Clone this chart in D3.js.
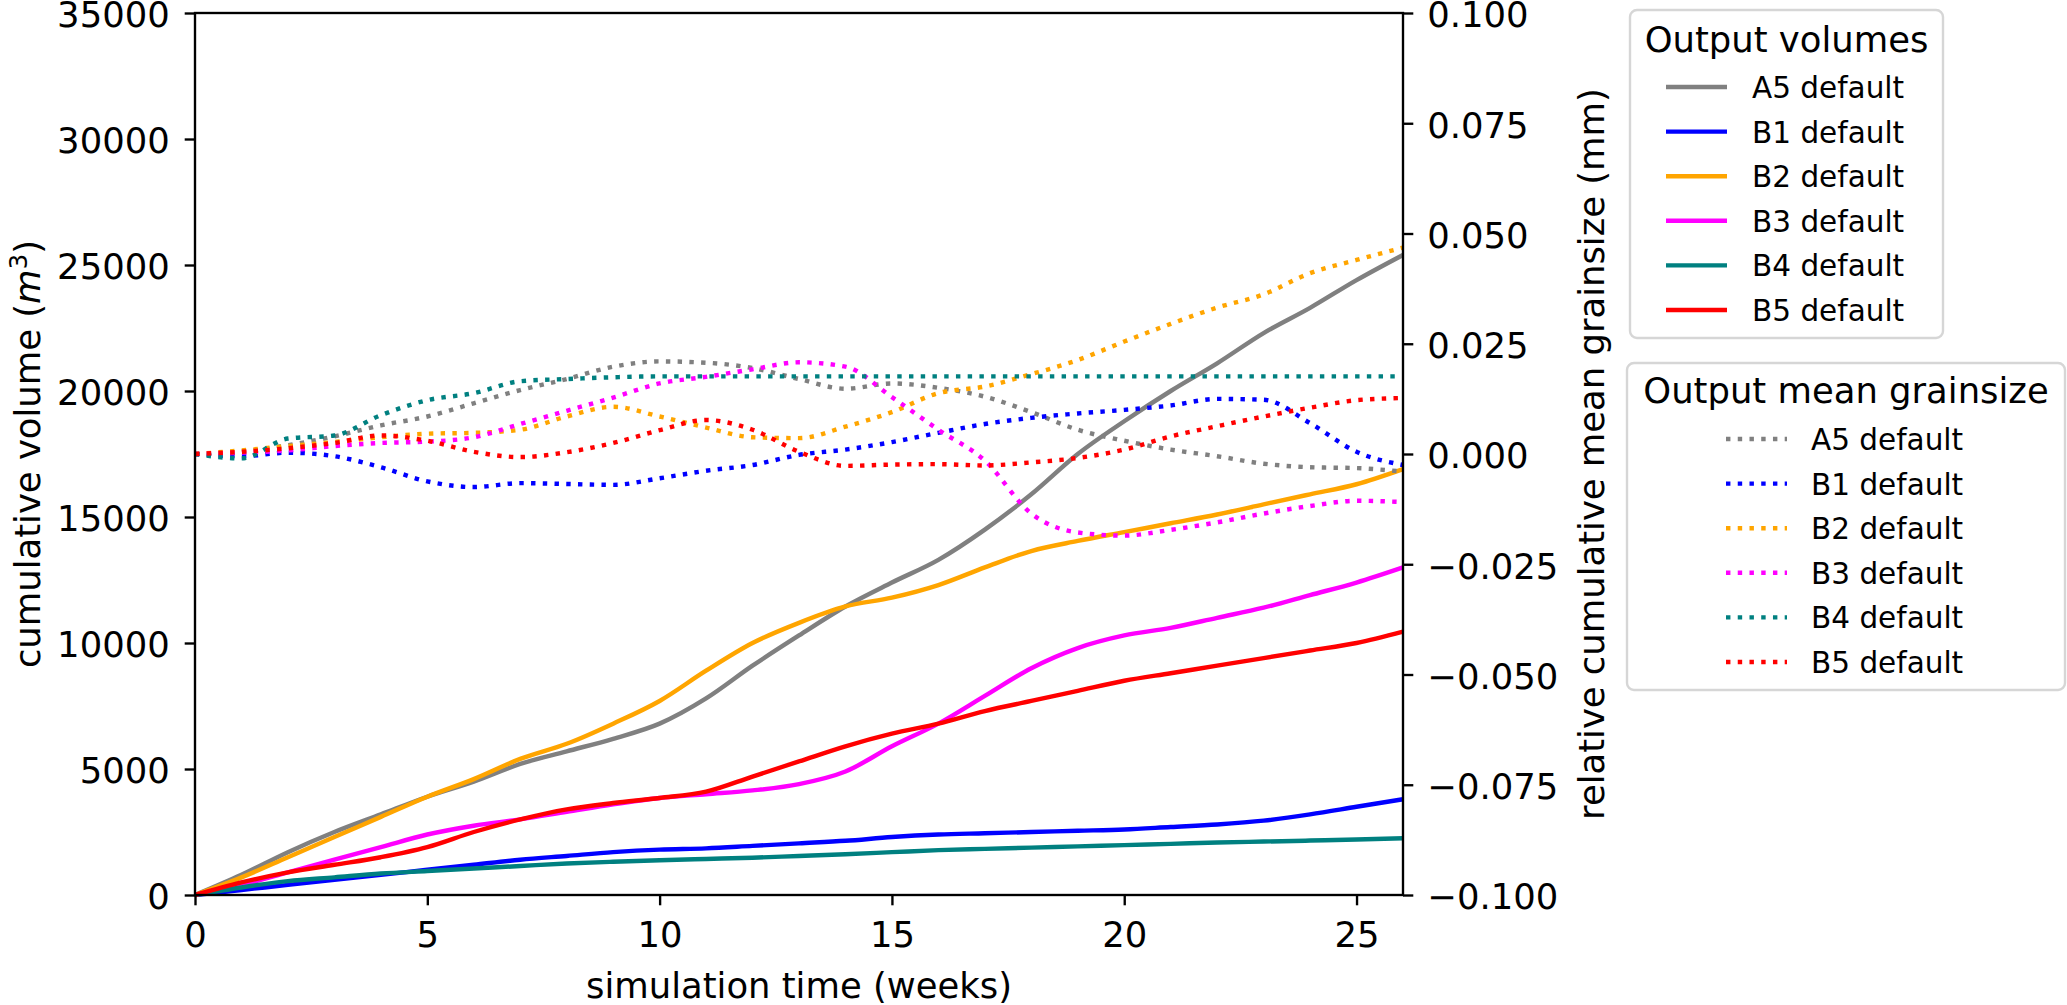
<!DOCTYPE html>
<html>
<head>
<meta charset="utf-8">
<script src="https://cdn.jsdelivr.net/npm/d3@7"></script>
<style>
body { margin: 0; background: #fff; }
text { font-family: "DejaVu Sans", sans-serif; fill: #000; }
</style>
</head>
<body>
<div id="chart"></div>
<script>
// simulation time (weeks)
var weeks = [0,1,2,3,4,5,6,7,8,9,10,11,12,13,14,15,16,17,18,19,20,21,22,23,24,25,26];

var seriesNames = ["A5 default", "B1 default", "B2 default", "B3 default", "B4 default", "B5 default"];
var seriesColors = ["#808080", "#0000ff", "#ffa500", "#ff00ff", "#008080", "#ff0000"];

// cumulative output volume (m3)
var volA5 = [0,800,1700,2500,3200,3900,4500,5200,5700,6200,6800,7800,9100,10300,11450,12400,13300,14500,15900,17500,18800,20000,21100,22300,23300,24400,25400];
var volB1 = [0,200,400,600,800,1000,1200,1400,1550,1700,1800,1850,1950,2050,2150,2300,2400,2450,2500,2550,2600,2700,2800,2950,3200,3500,3800];
var volB2 = [0,700,1500,2300,3100,3900,4600,5400,6000,6800,7700,8900,10000,10800,11450,11800,12300,13000,13650,14050,14400,14750,15100,15500,15900,16300,16900];
var volB3 = [0,400,900,1400,1900,2400,2750,3000,3300,3600,3850,4000,4150,4400,4900,5900,6800,7900,9000,9800,10300,10600,11000,11400,11900,12400,13000];
var volB4 = [0,300,550,700,850,950,1050,1150,1250,1320,1380,1430,1480,1550,1620,1700,1780,1830,1880,1930,1980,2030,2080,2120,2160,2200,2250];
var volB5 = [0,500,900,1200,1500,1900,2500,3000,3400,3650,3850,4100,4700,5300,5900,6400,6800,7300,7700,8100,8500,8800,9100,9400,9700,10000,10450];

// relative cumulative mean grainsize (mm)
var grainA5 = [0,0.0005,0.002,0.004,0.0065,0.0085,0.0115,0.0145,0.017,0.0198,0.021,0.0207,0.0195,0.017,0.0148,0.016,0.015,0.013,0.0095,0.0055,0.003,0.001,-0.0005,-0.0022,-0.003,-0.0032,-0.004];
var grainB1 = [0,-0.0005,0.0003,-0.0005,-0.003,-0.0062,-0.0075,-0.0066,-0.0068,-0.007,-0.0055,-0.0038,-0.0025,-0.0002,0.001,0.0027,0.0048,0.0068,0.0082,0.0092,0.010,0.011,0.0125,0.0123,0.007,0.0005,-0.0025];
var grainB2 = [0,0.0008,0.0018,0.0027,0.0038,0.0046,0.0048,0.0055,0.0085,0.0107,0.0085,0.006,0.0038,0.0036,0.0062,0.0095,0.0138,0.0153,0.0181,0.0213,0.0255,0.0295,0.0332,0.0362,0.041,0.044,0.0468];
var grainB3 = [0,0.0003,0.0008,0.0018,0.0025,0.0028,0.0038,0.0068,0.0098,0.0128,0.016,0.0175,0.0192,0.0208,0.0198,0.0129,0.0055,-0.0015,-0.0135,-0.0178,-0.0185,-0.0172,-0.0155,-0.0135,-0.0118,-0.0106,-0.0109];
var grainB4 = [0,-0.001,0.0035,0.0042,0.0088,0.0122,0.0138,0.0165,0.017,0.0174,0.0176,0.0176,0.0176,0.0176,0.0176,0.0176,0.0176,0.0176,0.0176,0.0176,0.0176,0.0176,0.0176,0.0176,0.0176,0.0176,0.0176];
var grainB5 = [0,0.0005,0.0013,0.0025,0.0042,0.003,0.0005,-0.0007,0.0004,0.0025,0.0054,0.0077,0.0055,0.0005,-0.0027,-0.0024,-0.0023,-0.0026,-0.0019,-0.0009,0.001,0.004,0.0063,0.0085,0.0105,0.0122,0.0127];

var weekTicks = [0,5,10,15,20,25];
var volumeTicks = [0,5000,10000,15000,20000,25000,30000,35000];
var grainTicks = [-0.1,-0.075,-0.05,-0.025,0,0.025,0.05,0.075,0.1];

var volumes = [volA5, volB1, volB2, volB3, volB4, volB5];
var grains = [grainA5, grainB1, grainB2, grainB3, grainB4, grainB5];

var width = 2067, height = 1005;
var margin = {top: 13, right: 664, bottom: 110, left: 195};
var lw = 4.43, axisW = 2.36, tickLen = 10.3;

var svg = d3.select("#chart").append("svg")
    .attr("width", width)
    .attr("height", height);

// scales
var xScale = d3.scaleLinear().domain([0, 26]).range([margin.left, width - margin.right]);
var yVol = d3.scaleLinear().domain([0, 35000]).range([height - margin.bottom, margin.top]);
var yGrain = d3.scaleLinear().domain([-0.1, 0.1]).range([height - margin.bottom, margin.top]);

var x0 = xScale(0), x1 = xScale(26), yb = yVol(0), yt = yVol(35000);

// draw lines
var volLine = function(vals) {
    return d3.line().x(function(d, i) { return xScale(weeks[i]); }).y(function(d) { return yVol(d); })
        .curve(d3.curveMonotoneX)(vals);
};
var grainLine = function(vals) {
    return d3.line().x(function(d, i) { return xScale(weeks[i]); }).y(function(d) { return yGrain(d); })
        .curve(d3.curveMonotoneX)(vals);
};

volumes.forEach(function(v, i) {
    svg.append("path")
        .attr("d", volLine(v))
        .attr("fill", "none")
        .attr("stroke", seriesColors[i])
        .attr("stroke-width", lw);
});
grains.forEach(function(g, i) {
    svg.append("path")
        .attr("d", grainLine(g))
        .attr("fill", "none")
        .attr("stroke", seriesColors[i])
        .attr("stroke-width", lw)
        .attr("stroke-dasharray", "4.43,7.31");
});

// axes
function styleAxis(g) {
    g.select(".domain").remove();
    g.selectAll(".tick line").attr("stroke", "#000").attr("stroke-width", axisW);
    g.selectAll(".tick text").attr("font-size", 35.4).attr("font-family", "DejaVu Sans");
}

svg.append("g")
    .attr("transform", "translate(" + x0 + ",0)")
    .call(d3.axisLeft(yVol).tickValues(volumeTicks).tickSize(tickLen).tickPadding(15).tickFormat(d3.format("d")))
    .call(styleAxis)
    .selectAll(".tick text").attr("dy", "0.39em");

svg.append("g")
    .attr("transform", "translate(" + x1 + ",0)")
    .call(d3.axisRight(yGrain).tickValues(grainTicks).tickSize(tickLen).tickPadding(14).tickFormat(d3.format(".3f")))
    .call(styleAxis)
    .selectAll(".tick text").attr("dy", "0.39em");

svg.append("g")
    .attr("transform", "translate(0," + yb + ")")
    .call(d3.axisBottom(xScale).tickValues(weekTicks).tickSize(tickLen).tickPadding(16.8).tickFormat(d3.format("d")))
    .call(styleAxis);

// frame
svg.append("rect")
    .attr("x", x0).attr("y", yt)
    .attr("width", x1 - x0).attr("height", yb - yt)
    .attr("fill", "none").attr("stroke", "#000").attr("stroke-width", axisW);

// axis titles
svg.append("text")
    .attr("x", (x0 + x1) / 2).attr("y", 998)
    .attr("text-anchor", "middle").attr("font-size", 35.4)
    .text("simulation time (weeks)");

var yTitle = svg.append("text")
    .attr("transform", "translate(40," + (yt + yb) / 2 + ") rotate(-90)")
    .attr("text-anchor", "middle").attr("font-size", 35.4);
yTitle.append("tspan").text("cumulative volume (");
yTitle.append("tspan").attr("font-style", "italic").text("m");
yTitle.append("tspan").attr("font-size", 24.8).attr("dy", -13).text("3");
yTitle.append("tspan").attr("dy", 13).text(")");

svg.append("text")
    .attr("transform", "translate(1604," + (yt + yb) / 2 + ") rotate(-90)")
    .attr("text-anchor", "middle").attr("font-size", 35.4)
    .text("relative cumulative mean grainsize (mm)");

// legends
function drawLegend(box, title, dashed) {
    var g = svg.append("g");
    g.append("rect")
        .attr("x", box.x).attr("y", box.y)
        .attr("width", box.w).attr("height", box.h)
        .attr("rx", 7).attr("ry", 7)
        .attr("fill", "#fff").attr("stroke", "#d6d6d6").attr("stroke-width", 2.4);
    g.append("text")
        .attr("x", box.x + box.w / 2).attr("y", box.titleY)
        .attr("text-anchor", "middle").attr("font-size", 35.4)
        .text(title);
    seriesNames.forEach(function(name, i) {
        var ry = box.rowY + i * 44.6;
        var ln = g.append("line")
            .attr("x1", box.hx).attr("x2", box.hx + 61)
            .attr("y1", ry).attr("y2", ry)
            .attr("stroke", seriesColors[i]).attr("stroke-width", lw);
        if (dashed) ln.attr("stroke-dasharray", "4.43,7.31");
        g.append("text")
            .attr("x", box.tx).attr("y", ry + 11)
            .attr("font-size", 29.5)
            .text(name);
    });
}

drawLegend({x: 1630, y: 10, w: 313, h: 328, titleY: 52, rowY: 87, hx: 1666, tx: 1752}, "Output volumes", false);
drawLegend({x: 1627, y: 363, w: 438, h: 327, titleY: 403, rowY: 439, hx: 1726, tx: 1811}, "Output mean grainsize", true);
</script>
</body>
</html>
